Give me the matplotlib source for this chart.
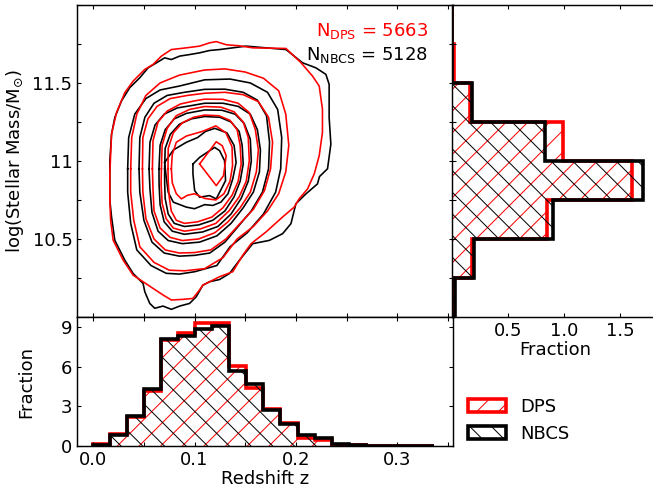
import numpy as np
import matplotlib
matplotlib.use('Agg')
import matplotlib.pyplot as plt
import matplotlib.patches as mpatches

plt.rcParams['font.size'] = 10
plt.rcParams['mathtext.default'] = 'regular'
plt.rcParams['hatch.linewidth'] = 0.55

#- Sample sizes:

n_dps = 5663
n_nbcs = 5128

#- Redshift histograms (fraction per bin):

z_edges = [0.0, 0.0168, 0.0336, 0.0504, 0.0672, 0.084, 0.1008, 0.1176, 0.1344,
           0.1512, 0.168, 0.1848, 0.2016, 0.2184, 0.2352, 0.252, 0.2688,
           0.2856, 0.3024, 0.3192, 0.336]
dps_z = [0.12, 0.92, 2.16, 4.15, 8.0, 8.55, 9.29, 9.29, 6.05, 4.35, 2.82,
         1.73, 0.64, 0.46, 0.08, 0.05, 0.03, 0.03, 0.02, 0.0]
nbcs_z = [0.1, 0.8, 2.25, 4.33, 8.1, 8.35, 8.86, 9.06, 5.67, 4.66, 2.75,
          1.68, 0.84, 0.64, 0.13, 0.05, 0.03, 0.03, 0.03, 0.03]

#- Stellar mass histograms (fraction per bin):

mass_edges = [10.0, 10.25, 10.5, 10.75, 11.0, 11.25, 11.5, 11.75, 12.0]
dps_mass = [0.015, 0.18, 0.85, 1.61, 0.99, 0.165, 0.015, 0.0]
nbcs_mass = [0.024, 0.196, 0.90, 1.71, 0.83, 0.178, 0.003, 0.0]

#- Density contours, (redshift, log mass) vertices, outermost first:

nbcs_contours = [
    [(0.0164, 10.75), (0.0164, 11.0), (0.0181, 11.172), (0.0213, 11.278), (0.0279, 11.385),
     (0.0361, 11.47), (0.0459, 11.533), (0.0542, 11.597), (0.0624, 11.629), (0.0705, 11.661),
     (0.0771, 11.65), (0.0853, 11.672), (0.0951, 11.682), (0.105, 11.693), (0.1148, 11.708),
     (0.1246, 11.714), (0.1508, 11.736), (0.1902, 11.714), (0.2066, 11.629), (0.2197, 11.597),
     (0.2296, 11.555), (0.2328, 11.491), (0.2328, 11.278), (0.2345, 11.108), (0.2312, 10.95),
     (0.2233, 10.9), (0.2213, 10.853), (0.2099, 10.789), (0.2, 10.726), (0.1951, 10.598),
     (0.1869, 10.534), (0.1738, 10.491), (0.1574, 10.47), (0.1443, 10.364), (0.1345, 10.279),
     (0.1246, 10.24), (0.1148, 10.226), (0.1082, 10.204), (0.1017, 10.13), (0.0951, 10.087),
     (0.0853, 10.07), (0.0771, 10.049), (0.0689, 10.07), (0.0607, 10.056), (0.0558, 10.087),
     (0.0509, 10.162), (0.0492, 10.215), (0.0394, 10.279), (0.0312, 10.364), (0.0213, 10.492),
     (0.0181, 10.641)],
    [(0.034, 10.95), (0.035, 11.15), (0.041, 11.3), (0.052, 11.4), (0.066, 11.455),
     (0.085, 11.48), (0.11, 11.52), (0.135, 11.525), (0.155, 11.5), (0.172, 11.44),
     (0.182, 11.33), (0.186, 11.15), (0.185, 10.95), (0.18, 10.8), (0.168, 10.66),
     (0.152, 10.54), (0.135, 10.45), (0.122, 10.33), (0.1, 10.29), (0.085, 10.275),
     (0.072, 10.28), (0.057, 10.33), (0.043, 10.43), (0.037, 10.6), (0.034, 10.8)],
    [(0.0452, 10.95), (0.046, 11.15), (0.051, 11.28), (0.06, 11.37), (0.073, 11.42),
     (0.09, 11.44), (0.11, 11.459), (0.13, 11.46), (0.148, 11.44), (0.162, 11.39),
     (0.171, 11.29), (0.174, 11.12), (0.173, 10.95), (0.167, 10.8), (0.156, 10.68),
     (0.143, 10.58), (0.13, 10.48), (0.115, 10.41), (0.1, 10.395), (0.085, 10.39),
     (0.07, 10.41), (0.058, 10.48), (0.05, 10.62), (0.046, 10.8)],
    [(0.0551, 10.95), (0.056, 11.12), (0.061, 11.23), (0.07, 11.3), (0.083, 11.34),
     (0.097, 11.355), (0.11, 11.37), (0.128, 11.37), (0.143, 11.35), (0.155, 11.3),
     (0.162, 11.2), (0.165, 11.07), (0.164, 10.93), (0.158, 10.8), (0.148, 10.7),
     (0.136, 10.6), (0.122, 10.52), (0.105, 10.48), (0.088, 10.47), (0.074, 10.49),
     (0.064, 10.55), (0.058, 10.67), (0.056, 10.82)],
    [(0.0649, 10.95), (0.066, 11.1), (0.071, 11.2), (0.08, 11.27), (0.092, 11.305),
     (0.11, 11.327), (0.127, 11.325), (0.14, 11.3), (0.149, 11.24), (0.155, 11.14),
     (0.156, 11.0), (0.153, 10.87), (0.146, 10.76), (0.136, 10.66), (0.123, 10.58),
     (0.108, 10.545), (0.09, 10.53), (0.078, 10.55), (0.07, 10.61), (0.066, 10.72),
     (0.065, 10.85)],
    [(0.0705, 10.95), (0.071, 11.08), (0.076, 11.17), (0.085, 11.235), (0.097, 11.27),
     (0.11, 11.285), (0.125, 11.28), (0.136, 11.25), (0.144, 11.19), (0.147, 11.1),
     (0.148, 10.98), (0.145, 10.87), (0.139, 10.77), (0.13, 10.68), (0.118, 10.62),
     (0.104, 10.59), (0.09, 10.58), (0.08, 10.6), (0.074, 10.66), (0.071, 10.76),
     (0.0705, 10.86)],
    [(0.0705, 10.99), (0.072, 10.9), (0.074, 10.8), (0.079, 10.736), (0.092, 10.704),
     (0.1, 10.694), (0.11, 10.72), (0.118, 10.715), (0.126, 10.736), (0.133, 10.79),
     (0.1377, 10.885), (0.141, 10.99), (0.139, 11.1), (0.132, 11.18), (0.12, 11.209),
     (0.111, 11.19), (0.103, 11.15), (0.092, 11.12), (0.079, 11.07)],
    [(0.0984, 10.98), (0.105, 11.023), (0.1198, 11.087), (0.1247, 11.066), (0.1296, 11.002),
     (0.1306, 10.874), (0.1214, 10.757), (0.1148, 10.778), (0.105, 10.768), (0.1001, 10.81),
     (0.0984, 10.917)],
]

dps_contours = [
    [(0.0164, 10.75), (0.0164, 10.917), (0.0181, 11.172), (0.023, 11.31), (0.0312, 11.438),
     (0.0394, 11.512), (0.0509, 11.587), (0.0591, 11.619), (0.0673, 11.672), (0.0771, 11.714),
     (0.0919, 11.725), (0.105, 11.736), (0.1148, 11.757), (0.1214, 11.765), (0.1312, 11.745),
     (0.1443, 11.738), (0.1574, 11.725), (0.1902, 11.721), (0.205, 11.63), (0.2164, 11.544),
     (0.223, 11.48), (0.2262, 11.332), (0.2262, 11.183), (0.223, 11.034), (0.2181, 10.917),
     (0.2115, 10.821), (0.2033, 10.758), (0.1984, 10.705), (0.1869, 10.641), (0.1705, 10.545),
     (0.1558, 10.47), (0.1476, 10.396), (0.1377, 10.29), (0.1246, 10.258), (0.1082, 10.204),
     (0.1049, 10.173), (0.0984, 10.119), (0.0886, 10.113), (0.0771, 10.109), (0.0689, 10.141),
     (0.0591, 10.183), (0.0492, 10.226), (0.0394, 10.268), (0.0296, 10.364), (0.0197, 10.492),
     (0.0172, 10.62)],
    [(0.037, 10.95), (0.038, 11.15), (0.043, 11.3), (0.052, 11.42), (0.066, 11.5),
     (0.085, 11.55), (0.11, 11.583), (0.13, 11.59), (0.15, 11.57), (0.168, 11.53),
     (0.183, 11.45), (0.19, 11.3), (0.193, 11.1), (0.19, 10.93), (0.183, 10.79),
     (0.172, 10.68), (0.158, 10.58), (0.142, 10.5), (0.128, 10.38), (0.11, 10.31),
     (0.09, 10.296), (0.075, 10.3), (0.06, 10.35), (0.046, 10.45), (0.04, 10.62),
     (0.037, 10.8)],
    [(0.0486, 10.95), (0.049, 11.15), (0.054, 11.27), (0.063, 11.35), (0.076, 11.4),
     (0.093, 11.42), (0.11, 11.434), (0.13, 11.44), (0.148, 11.425), (0.163, 11.38),
     (0.173, 11.28), (0.177, 11.12), (0.175, 10.95), (0.169, 10.81), (0.158, 10.69),
     (0.145, 10.6), (0.131, 10.5), (0.116, 10.43), (0.1, 10.413), (0.085, 10.41),
     (0.071, 10.43), (0.06, 10.5), (0.052, 10.63), (0.049, 10.8)],
    [(0.0584, 10.95), (0.059, 11.13), (0.064, 11.25), (0.073, 11.32), (0.086, 11.365),
     (0.1, 11.385), (0.11, 11.396), (0.128, 11.395), (0.143, 11.37), (0.154, 11.31),
     (0.16, 11.2), (0.163, 11.07), (0.161, 10.93), (0.155, 10.8), (0.145, 10.7),
     (0.133, 10.61), (0.12, 10.54), (0.104, 10.5), (0.088, 10.49), (0.076, 10.51),
     (0.066, 10.57), (0.06, 10.68), (0.059, 10.82)],
    [(0.0673, 10.95), (0.068, 11.1), (0.073, 11.21), (0.082, 11.29), (0.095, 11.33),
     (0.11, 11.349), (0.126, 11.345), (0.139, 11.315), (0.148, 11.25), (0.153, 11.15),
     (0.154, 11.0), (0.151, 10.87), (0.144, 10.77), (0.134, 10.68), (0.121, 10.6),
     (0.106, 10.565), (0.09, 10.55), (0.079, 10.57), (0.072, 10.63), (0.068, 10.73),
     (0.067, 10.85)],
    [(0.0738, 10.95), (0.074, 11.08), (0.079, 11.18), (0.088, 11.245), (0.099, 11.28),
     (0.11, 11.294), (0.124, 11.29), (0.135, 11.26), (0.142, 11.2), (0.145, 11.1),
     (0.146, 10.98), (0.143, 10.87), (0.137, 10.78), (0.128, 10.7), (0.117, 10.64),
     (0.103, 10.61), (0.09, 10.6), (0.082, 10.62), (0.077, 10.68), (0.075, 10.77),
     (0.074, 10.87)],
    [(0.0771, 10.95), (0.078, 10.86), (0.082, 10.79), (0.087, 10.757), (0.093, 10.78),
     (0.1, 10.79), (0.11, 10.76), (0.121, 10.75), (0.129, 10.79), (0.135, 10.87),
     (0.1375, 10.97), (0.137, 11.09), (0.131, 11.18), (0.121, 11.225), (0.108, 11.19),
     (0.092, 11.16), (0.082, 11.12), (0.078, 11.04)],
    [(0.105, 10.981), (0.1214, 11.123), (0.1273, 11.098), (0.1312, 11.034), (0.1286, 10.906),
     (0.1214, 10.842)],
]

#- Figure and axes:

fig = plt.figure(figsize=(653 / 130, 493 / 130), dpi=130)
ax_main = fig.add_axes([0.1179, 0.357, 0.5758, 0.633])
ax_z = fig.add_axes([0.1179, 0.0953, 0.5758, 0.2617])
ax_m = fig.add_axes([0.6922, 0.357, 0.317, 0.633])

for ax in (ax_main, ax_z, ax_m):
    ax.tick_params(which='both', direction='in', top=True, right=True,
                   length=2.0, width=0.6, pad=2.5)
    for s in ax.spines.values():
        s.set_linewidth(0.8)

#- Contours:

for verts in nbcs_contours:
    v = np.array(verts + [verts[0]])
    ax_main.plot(v[:, 0], v[:, 1], '-', color='black', lw=0.9)
for verts in dps_contours:
    v = np.array(verts + [verts[0]])
    ax_main.plot(v[:, 0], v[:, 1], '-', color='red', lw=0.9)

ax_main.set_xlim(-0.016, 0.355)
ax_main.set_ylim(10.0, 12.0)
ax_main.set_xticks(np.arange(0.0, 0.36, 0.05))
ax_main.tick_params(labelbottom=False)
ax_main.set_yticks(np.arange(10.0, 12.01, 0.25))
ax_main.set_yticklabels(['', '', '10.5', '', '11', '', '11.5', '', ''])
ax_main.set_ylabel(r'log(Stellar Mass/M$_{\odot}$)')
ax_main.yaxis.set_label_coords(-0.136, 0.5)

ax_main.text(0.934, 0.90, r'$N_{DPS}$ = %d' % n_dps, color='red',
             ha='right', va='baseline', transform=ax_main.transAxes)
ax_main.text(0.934, 0.824, r'$N_{NBCS}$ = %d' % n_nbcs, color='black',
             ha='right', va='baseline', transform=ax_main.transAxes)

#- Redshift histogram:

ax_z.stairs(dps_z, z_edges, fill=True, facecolor='none', edgecolor='red',
            hatch='//', lw=2.0)
ax_z.stairs(nbcs_z, z_edges, fill=True, facecolor='none', edgecolor='black',
            hatch='\\\\', lw=2.0)
ax_z.set_xlim(-0.016, 0.355)
ax_z.set_ylim(0, 9.75)
ax_z.set_xticks(np.arange(0.0, 0.36, 0.05))
ax_z.set_xticklabels(['0.0', '', '0.1', '', '0.2', '', '0.3', ''])
ax_z.set_yticks([0, 3, 6, 9])
ax_z.set_xlabel('Redshift z', labelpad=1)
ax_z.set_ylabel('Fraction')
ax_z.yaxis.set_label_coords(-0.112, 0.5)

#- Stellar mass histogram:

ax_m.stairs(dps_mass, mass_edges, orientation='horizontal', fill=True,
            facecolor='none', edgecolor='red', hatch='//', lw=2.0)
ax_m.stairs(nbcs_mass, mass_edges, orientation='horizontal', fill=True,
            facecolor='none', edgecolor='black', hatch='\\\\', lw=2.0)
ax_m.set_ylim(10.0, 12.0)
ax_m.set_xlim(0, 1.85)
ax_m.set_yticks(np.arange(10.0, 12.01, 0.25))
ax_m.tick_params(labelleft=False)
ax_m.set_xticks([0.5, 1.0, 1.5])
ax_m.set_xticklabels(['0.5', '1.0', '1.5'])
ax_m.set_xlabel('Fraction', labelpad=1)

#- Legend:

handles = [mpatches.Patch(facecolor='none', edgecolor='red', hatch='//', lw=2.0, label='DPS'),
           mpatches.Patch(facecolor='none', edgecolor='black', hatch='\\\\', lw=2.0, label='NBCS')]
fig.legend(handles=handles, loc='center left', bbox_to_anchor=(0.717, 0.148),
           frameon=False, borderpad=0, borderaxespad=0, handlelength=2.1)

fig.savefig('out.png', dpi=130)
